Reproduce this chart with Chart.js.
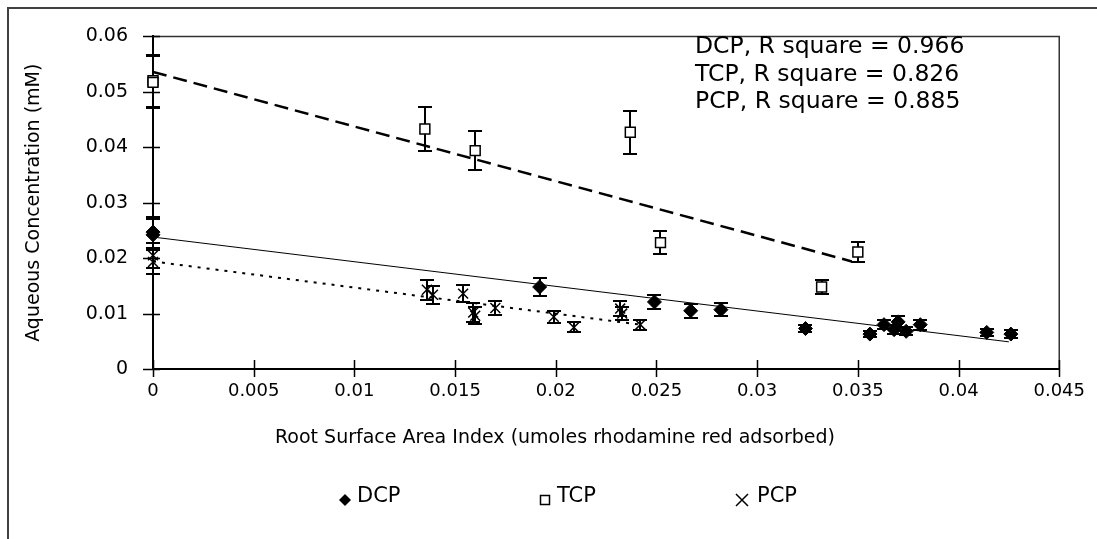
<!DOCTYPE html>
<html>
<head>
<meta charset="utf-8">
<script src="https://cdn.jsdelivr.net/npm/chart.js@4/dist/chart.umd.min.js"></script>
<style>
  html, body { margin: 0; padding: 0; background: #fff; }
  #wrap { width: 1097px; height: 539px; }
</style>
</head>
<body>
<div id="wrap"><canvas id="c" width="1097" height="539"></canvas></div>
<script>
// ── 축 눈금 ───────────────────────────────────────────
var X_TICKS = ["0", "0.005", "0.01", "0.015", "0.02", "0.025", "0.03", "0.035", "0.04", "0.045"];
var Y_TICKS = ["0", "0.01", "0.02", "0.03", "0.04", "0.05", "0.06"];

// ── 측정값 (x, y, 오차) ─────────────────────────────────
var DCP_X = [0, 0, 0.0192, 0.0249, 0.0267, 0.0282, 0.0324, 0.0356, 0.0363, 0.0368, 0.0370, 0.0374, 0.0381, 0.0414, 0.0426];
var DCP_Y = [0.0247, 0.0242, 0.0148, 0.0121, 0.0105, 0.0107, 0.0073, 0.0063, 0.0080, 0.0071, 0.0085, 0.0068, 0.0080, 0.0066, 0.0063];
var DCP_ERR = [0.0028, 0.0028, 0.0016, 0.0013, 0.0013, 0.0012, 0.0007, 0.0006, 0.0008, 0.0008, 0.0010, 0.0007, 0.0009, 0.0007, 0.0007];

var TCP_X = [0, 0, 0.0135, 0.0160, 0.0237, 0.0252, 0.0332, 0.0350];
var TCP_Y = [0.0520, 0.0517, 0.0433, 0.0394, 0.0427, 0.0228, 0.0148, 0.0211];
var TCP_ERR = [0.0047, 0.0047, 0.0039, 0.0035, 0.0039, 0.0021, 0.0013, 0.0018];

var PCP_X = [0, 0, 0.0136, 0.0139, 0.0154, 0.0159, 0.0160, 0.0170, 0.0199, 0.0209, 0.0232, 0.0233, 0.0242];
var PCP_Y = [0.0205, 0.0193, 0.0143, 0.0134, 0.0136, 0.0102, 0.0096, 0.0110, 0.0094, 0.0075, 0.0109, 0.0100, 0.0080];
var PCP_ERR = [0.0022, 0.0022, 0.0018, 0.0016, 0.0016, 0.0017, 0.0015, 0.0013, 0.0011, 0.0009, 0.0014, 0.0012, 0.0009];

// ── 추세선 양 끝점 ───────────────────────────────────────
var TREND_DCP_X = [0, 0.0425];
var TREND_DCP_Y = [0.0238, 0.0049];
var TREND_TCP_X = [0, 0.0347];
var TREND_TCP_Y = [0.0536, 0.0194];
var TREND_PCP_X = [0, 0.0242];
var TREND_PCP_Y = [0.0194, 0.0080];

// ── R square 표기 ───────────────────────────────────────
var SERIES_NAMES = ["DCP", "TCP", "PCP"];
var R_SQUARE = ["0.966", "0.826", "0.885"];

var FONT = "'DejaVu Sans', sans-serif";

function pts(xs, ys) {
  return xs.map(function (x, i) { return { x: x, y: ys[i] }; });
}

// 오차 막대 (데이터셋 아래에 그림)
var errorBars = {
  id: "errorBars",
  beforeDatasetsDraw: function (chart) {
    var ctx = chart.ctx, xs = chart.scales.x, ys = chart.scales.y;
    ctx.save();
    ctx.strokeStyle = "#000";
    ctx.lineWidth = 2;
    chart.data.datasets.forEach(function (ds) {
      if (!ds.errors) return;
      ds.data.forEach(function (p, i) {
        var px = Math.round(xs.getPixelForValue(p.x));
        var top = Math.round(ys.getPixelForValue(p.y + ds.errors[i]));
        var bot = Math.round(ys.getPixelForValue(p.y - ds.errors[i]));
        ctx.beginPath();
        ctx.moveTo(px, top); ctx.lineTo(px, bot);
        ctx.moveTo(px - 7, top); ctx.lineTo(px + 7, top);
        ctx.moveTo(px - 7, bot); ctx.lineTo(px + 7, bot);
        ctx.stroke();
      });
    });
    ctx.restore();
  }
};

function legendMark(ctx, kind, x, y) {
  ctx.beginPath();
  if (kind === 0) {
    ctx.moveTo(x, y - 6); ctx.lineTo(x + 6, y); ctx.lineTo(x, y + 6); ctx.lineTo(x - 6, y);
    ctx.closePath(); ctx.fill();
  } else if (kind === 1) {
    ctx.lineWidth = 1.5;
    ctx.strokeRect(x - 4.5, y - 4.5, 9, 9);
  } else {
    ctx.lineWidth = 1.5;
    ctx.moveTo(x - 6, y - 6); ctx.lineTo(x + 6, y + 6);
    ctx.moveTo(x + 6, y - 6); ctx.lineTo(x - 6, y + 6);
    ctx.stroke();
  }
}

// 테두리, 교차 눈금, 축 제목, 주석, 범례
var decor = {
  id: "decor",
  beforeDraw: function (chart) {
    var ctx = chart.ctx;
    ctx.save();
    ctx.fillStyle = "#fff";
    ctx.fillRect(0, 0, chart.width, chart.height);
    ctx.strokeStyle = "#404040";
    ctx.lineWidth = 2;
    ctx.strokeRect(8, 8, 3000, 3000);
    ctx.restore();
  },
  afterDraw: function (chart) {
    var ctx = chart.ctx, a = chart.chartArea, xs = chart.scales.x, ys = chart.scales.y;
    ctx.save();
    // 플롯 영역 위/오른쪽 테두리
    ctx.strokeStyle = "#333";
    ctx.lineWidth = 1.5;
    ctx.beginPath();
    ctx.moveTo(a.left, a.top); ctx.lineTo(a.right, a.top); ctx.lineTo(a.right, a.bottom);
    ctx.stroke();
    // 교차 눈금
    ctx.strokeStyle = "#000";
    ctx.lineWidth = 1.5;
    ctx.beginPath();
    ys.ticks.forEach(function (t) {
      var py = Math.round(ys.getPixelForValue(t.value)) + 0.5;
      ctx.moveTo(a.left - 10, py); ctx.lineTo(a.left + 7, py);
    });
    xs.ticks.forEach(function (t) {
      var px = Math.round(xs.getPixelForValue(t.value)) + 0.5;
      ctx.moveTo(px, a.bottom - 9); ctx.lineTo(px, a.bottom + 8);
    });
    ctx.stroke();

    ctx.fillStyle = "#000";
    ctx.textBaseline = "middle";
    // x축 제목
    ctx.font = "19px " + FONT;
    ctx.textAlign = "center";
    ctx.fillText("Root Surface Area Index (umoles rhodamine red adsorbed)", 555, 438);
    // R square 주석
    ctx.font = "23.5px " + FONT;
    ctx.textAlign = "left";
    SERIES_NAMES.forEach(function (n, i) {
      ctx.fillText(n + ", R square = " + R_SQUARE[i], 695, 47 + i * 27.5);
    });
    // 범례
    var LEG_X = [345, 545, 742];
    var LEG_GAP = [12, 12, 15];
    ctx.font = "21px " + FONT;
    SERIES_NAMES.forEach(function (n, i) {
      ctx.strokeStyle = "#000";
      legendMark(ctx, i, LEG_X[i], 500);
      ctx.fillText(n, LEG_X[i] + LEG_GAP[i], 497);
    });
    ctx.restore();
  }
};

new Chart(document.getElementById("c"), {
  type: "scatter",
  data: {
    datasets: [
      {
        label: "DCP", data: pts(DCP_X, DCP_Y), errors: DCP_ERR, order: 1, clip: false,
        pointStyle: "rectRot", pointRadius: 7, backgroundColor: "#000", borderColor: "#000", borderWidth: 1
      },
      {
        label: "TCP", data: pts(TCP_X, TCP_Y), errors: TCP_ERR, order: 1, clip: false,
        pointStyle: "rect", pointRadius: 7, backgroundColor: "#fff", borderColor: "#000", borderWidth: 1.5
      },
      {
        label: "PCP", data: pts(PCP_X, PCP_Y), errors: PCP_ERR, order: 1, clip: false,
        pointStyle: "crossRot", pointRadius: 7, backgroundColor: "#000", borderColor: "#000", borderWidth: 1.5
      },
      {
        label: "DCP trend", data: pts(TREND_DCP_X, TREND_DCP_Y), showLine: true, order: 2,
        pointRadius: 0, borderColor: "#000", borderWidth: 1
      },
      {
        label: "TCP trend", data: pts(TREND_TCP_X, TREND_TCP_Y), showLine: true, order: 2,
        pointRadius: 0, borderColor: "#000", borderWidth: 2.5, borderDash: [14, 7]
      },
      {
        label: "PCP trend", data: pts(TREND_PCP_X, TREND_PCP_Y), showLine: true, order: 2,
        pointRadius: 0, borderColor: "#000", borderWidth: 2, borderDash: [3, 6]
      }
    ]
  },
  options: {
    responsive: false,
    animation: false,
    events: [],
    layout: { padding: { top: 29, right: 34, left: 0, bottom: 0 } },
    plugins: { legend: { display: false }, tooltip: { enabled: false } },
    scales: {
      x: {
        type: "linear", min: 0, max: 0.045,
        afterFit: function (s) { s.height = 170; },
        grid: { drawOnChartArea: false, drawTicks: false },
        border: { color: "#000", width: 2 },
        ticks: {
          stepSize: 0.005, autoSkip: false, maxRotation: 0, padding: 12,
          color: "#000", font: { family: FONT, size: 18 },
          callback: function (v, i) { return X_TICKS[i]; }
        }
      },
      y: {
        type: "linear", min: 0, max: 0.06,
        afterFit: function (s) { s.width = 153; },
        grid: { drawOnChartArea: false, drawTicks: false },
        border: { color: "#000", width: 2 },
        title: {
          display: true, text: "Aqueous Concentration (mM)", color: "#000",
          font: { family: FONT, size: 19 }, padding: { top: 23, bottom: 0 }
        },
        ticks: {
          stepSize: 0.01, padding: 25,
          color: "#000", font: { family: FONT, size: 19 },
          callback: function (v, i) { return Y_TICKS[i]; }
        }
      }
    }
  },
  plugins: [errorBars, decor]
});
</script>
</body>
</html>
